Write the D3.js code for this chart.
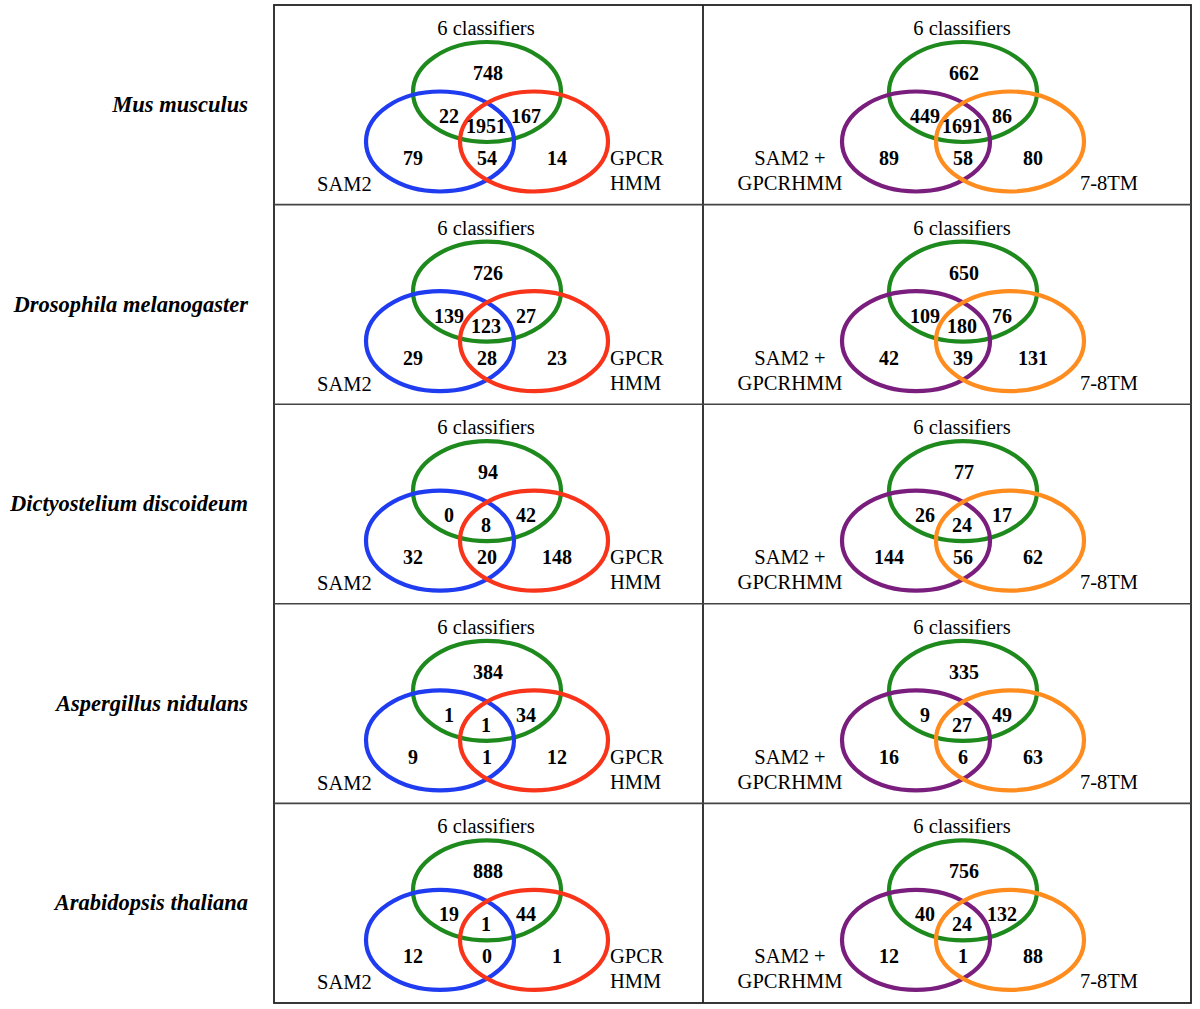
<!DOCTYPE html>
<html><head><meta charset="utf-8">
<script src="https://cdn.jsdelivr.net/npm/d3@7"></script>
<style>body{margin:0;background:#fff}</style>
</head><body>
<svg id="c" width="1200" height="1009"></svg>
<script>
const species = ["Mus musculus","Drosophila melanogaster","Dictyostelium discoideum","Aspergillus nidulans","Arabidopsis thaliana"];
// region order: [top only, top∩left, all three, top∩right, left only, left∩right, right only]
const leftValues = [
  [748,22,1951,167,79,54,14],
  [726,139,123,27,29,28,23],
  [94,0,8,42,32,20,148],
  [384,1,1,34,9,1,12],
  [888,19,1,44,12,0,1]
];
const rightValues = [
  [662,449,1691,86,89,58,80],
  [650,109,180,76,42,39,131],
  [77,26,24,17,144,56,62],
  [335,9,27,49,16,6,63],
  [756,40,24,132,12,1,88]
];
const leftSets = ["6 classifiers","SAM2","GPCR\nHMM"];
const rightSets = ["6 classifiers","SAM2 +\nGPCRHMM","7-8TM"];
const leftColors = ["#1e8a1e","#1f3cf0","#f8341a"];
const rightColors = ["#1e8a1e","#7a1e7e","#ff8c1e"];

const svg = d3.select("#c");
const y = d3.scaleBand().domain(d3.range(species.length)).range([5,1003]).padding(0);
const colX = [274,703,1191];

// grid
const g = svg.append("g");
g.append("rect").attr("x",colX[0]).attr("y",5).attr("width",colX[2]-colX[0]).attr("height",998)
  .attr("fill","none").attr("stroke","#222").attr("stroke-width",1.8);
g.append("line").attr("x1",colX[1]).attr("x2",colX[1]).attr("y1",5).attr("y2",1003).attr("stroke","#222").attr("stroke-width",1.8);
species.slice(1).forEach((s,i)=>{
  g.append("line").attr("x1",colX[0]).attr("x2",colX[2]).attr("y1",y(i+1)).attr("y2",y(i+1))
   .attr("stroke","#444").attr("stroke-width",1.6);
});

// row labels
svg.selectAll("text.sp").data(species).join("text").attr("class","sp")
  .attr("x",248).attr("y",(d,i)=>y(i)+107)
  .attr("text-anchor","end").attr("font-family","Liberation Serif, Times New Roman, serif")
  .attr("font-weight","bold").attr("font-style","italic").attr("font-size",22.5).text(d=>d);

// layout offsets (relative to green circle center x / row top)
const ell = [{dx:0,dy:87},{dx:-47,dy:136.5},{dx:47,dy:136.5}];
const numPos = [{dx:1,dy:75},{dx:-38,dy:118},{dx:-1,dy:128},{dx:39,dy:118},{dx:-74,dy:160},{dx:0,dy:160},{dx:70,dy:160}];

function panel(cx, vals, sets, colors, isRight){
  species.forEach((s,r)=>{
    const top = y(r);
    const pg = svg.append("g");
    pg.selectAll("ellipse").data(ell).join("ellipse")
      .attr("cx",d=>cx+d.dx).attr("cy",d=>top+d.dy).attr("rx",74).attr("ry",50)
      .attr("fill","none").attr("stroke",(d,i)=>colors[i]).attr("stroke-width",4.2);
    pg.selectAll("text.n").data(vals[r]).join("text").attr("class","n")
      .attr("x",(d,i)=>cx+numPos[i].dx).attr("y",(d,i)=>top+numPos[i].dy)
      .attr("text-anchor","middle").attr("font-family","Liberation Serif, Times New Roman, serif")
      .attr("font-weight","bold").attr("font-size",20).text(d=>d);
    const f = "Liberation Serif, Times New Roman, serif";
    pg.append("text").attr("x",cx-1).attr("y",top+30).attr("text-anchor","middle")
      .attr("font-family",f).attr("font-size",20.5).text(sets[0]);
    if(!isRight){
      pg.append("text").attr("x",cx-170).attr("y",top+186).attr("font-family",f).attr("font-size",20.5).text(sets[1]);
      sets[2].split("\n").forEach((t,k)=>pg.append("text").attr("x",cx+123).attr("y",top+160+k*25)
        .attr("font-family",f).attr("font-size",20.5).text(t));
    } else {
      sets[1].split("\n").forEach((t,k)=>pg.append("text").attr("x",cx-173).attr("y",top+160+k*25)
        .attr("text-anchor","middle").attr("font-family",f).attr("font-size",20.5).text(t));
      pg.append("text").attr("x",cx+117).attr("y",top+185).attr("font-family",f).attr("font-size",20.5).text(sets[2]);
    }
  });
}
panel(487, leftValues, leftSets, leftColors, false);
panel(963, rightValues, rightSets, rightColors, true);
</script>
</body></html>
